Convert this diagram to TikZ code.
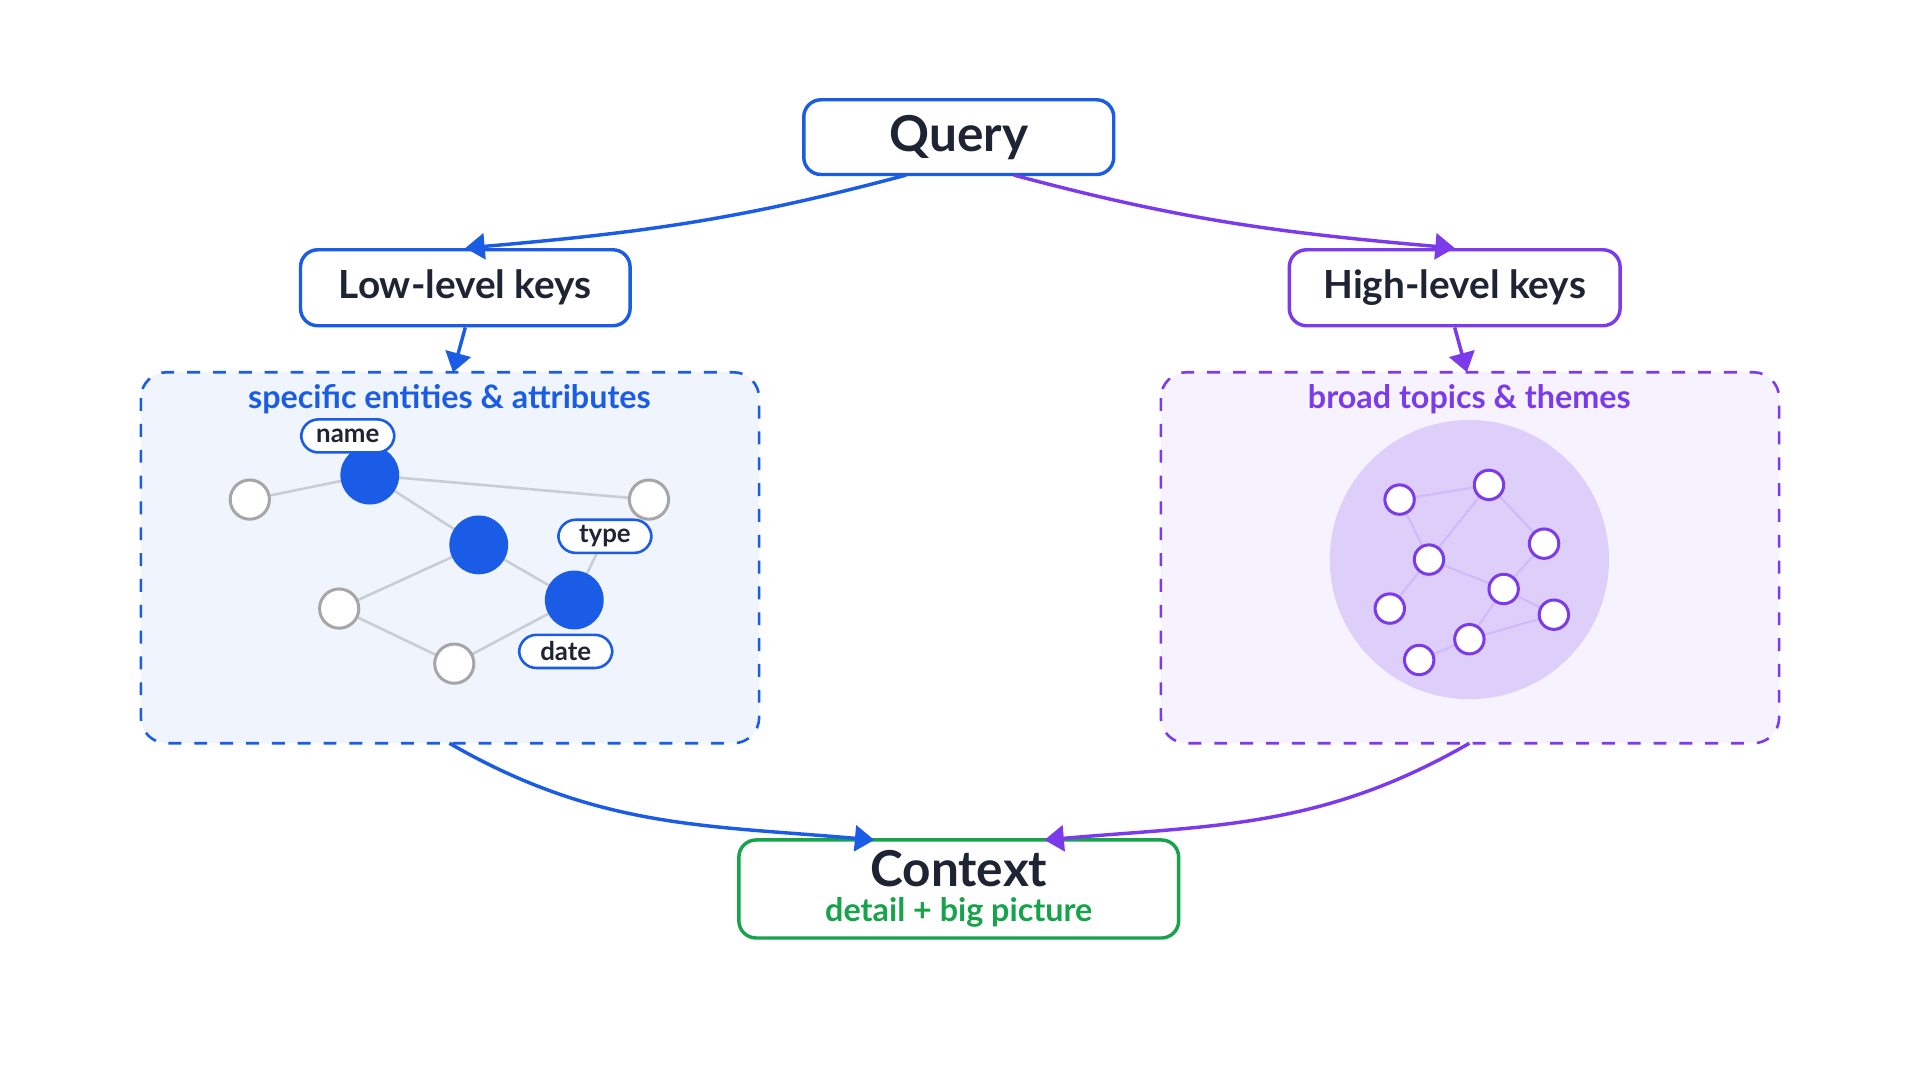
\documentclass[tikz,border=0pt]{standalone}
\usepackage{fontspec}
\setmainfont{Lato}
\usetikzlibrary{arrows.meta,positioning}
\definecolor{ink}{HTML}{1E2433}
\definecolor{lowblue}{HTML}{1A5CE6}
\definecolor{highpurple}{HTML}{7C3AED}
\definecolor{ctxgreen}{HTML}{16A34A}
\definecolor{edgegray}{HTML}{C8CDD8}
\tikzset{
  keybox/.style={draw, line width=0.8pt, rounded corners=4pt, fill=white, text=ink, font=\bfseries\fontsize{9}{11}\selectfont},
  zone/.style={dashed, line width=0.6pt, rounded corners=6pt},
  pill/.style={draw=lowblue, line width=0.6pt, rounded corners=4pt, fill=white, text=ink, font=\bfseries\fontsize{6}{7}\selectfont, minimum width=0.76cm, minimum height=0.27cm, inner sep=1pt},
  entity/.style={circle, fill=lowblue, minimum size=0.48cm, inner sep=0pt},
  plain/.style={circle, draw=gray!70, line width=0.7pt, fill=white, minimum size=0.32cm, inner sep=0pt},
  topic/.style={circle, draw=highpurple, line width=0.7pt, fill=white, minimum size=0.24cm, inner sep=0pt},
  link/.style={edgegray, line width=0.6pt},
  flow/.style={line width=0.8pt, -{Triangle[width=6pt,length=4.5pt]}},
}
\begin{document}
\begin{tikzpicture}[x=0.01cm, y=-0.01cm]
  \useasboundingbox (0,0) rectangle (1568,882);
  % zones
  \draw[zone, draw=lowblue, fill=lowblue!7] (115,304) rectangle (620,607);
  \draw[zone, draw=highpurple, fill=highpurple!6] (948,304) rectangle (1453,607);
  \node[text=lowblue, font=\bfseries\fontsize{7.5}{9}\selectfont] at (367,326) {specific entities \& attributes};
  \node[text=highpurple, font=\bfseries\fontsize{7.5}{9}\selectfont] at (1200,326) {broad topics \& themes};
  % boxes
  \node[keybox, draw=lowblue, minimum width=2.53cm, minimum height=0.61cm, font=\bfseries\fontsize{11.5}{13}\selectfont] (query) at (783,112) {Query};
  \node[keybox, draw=lowblue, minimum width=2.69cm, minimum height=0.62cm] (low) at (380,235) {Low-level keys};
  \node[keybox, draw=highpurple, minimum width=2.70cm, minimum height=0.62cm] (high) at (1188,235) {High-level keys};
  \node[keybox, draw=ctxgreen, minimum width=3.59cm, minimum height=0.80cm, inner sep=1pt, align=center] (context) at (783,726)
    {{\fontsize{11.5}{12}\selectfont Context}\\[-3pt]{\color{ctxgreen}\fontsize{7.5}{9}\selectfont detail + big picture}};
  \coordinate (qleft) at (740,143);
  \coordinate (qright) at (828,143);
  \coordinate (lowin) at (370,304);
  \coordinate (highin) at (1198,304);
  \coordinate (lowout) at (367,607);
  \coordinate (highout) at (1200,607);
  \coordinate (ctxleft) at (714,686);
  \coordinate (ctxright) at (853,686);
  % left graph
  \foreach \n/\x/\y in {p1/204/408, p2/530/408, p3/277/497, p4/371/542, e1/302/388, e2/391/445, e3/469/490, typeanchor/494/438}
    \coordinate (\n) at (\x,\y);
  \foreach \a/\b in {p1/e1, e1/p2, e1/e2, e2/p3, e2/e3, p3/p4, p4/e3, typeanchor/e3}
    \draw[link] (\a) -- (\b);
  \foreach \n in {p1,p2,p3,p4}
    \node[plain] at (\n) {};
  \foreach \n in {e1,e2,e3}
    \node[entity] at (\n) {};
  \node[pill] (name) at (284,356) {name};
  \node[pill] (type) at (typeanchor) {type};
  \node[pill] (date) at (462,532) {date};
  % right cluster
  \fill[highpurple!25] (1200,457) circle (114);
  \foreach \n/\x/\y in {t1/1143/408, t2/1216/396, t3/1261/444, t4/1167/457, t5/1228/481, t6/1135/497, t7/1269/502, t8/1200/522, t9/1159/539}
    \coordinate (\n) at (\x,\y);
  \foreach \a/\b in {t1/t2, t2/t3, t2/t4, t1/t4, t4/t5, t5/t3, t5/t7, t7/t8, t8/t9, t6/t4, t8/t5}
    \draw[white!65!highpurple, line width=0.5pt] (\a) -- (\b);
  \foreach \n in {t1,t2,t3,t4,t5,t6,t7,t8,t9}
    \node[topic] at (\n) {};
  % connectors
  \draw[flow, lowblue] (qleft) to[out=-165, in=5] (low.north);
  \draw[flow, highpurple] (qright) to[out=-15, in=175] (high.north);
  \draw[flow, lowblue] (low.south) -- (lowin);
  \draw[flow, highpurple] (high.south) -- (highin);
  \draw[flow, lowblue] (lowout) to[out=-30, in=175] (ctxleft);
  \draw[flow, highpurple] (highout) to[out=-150, in=5] (ctxright);
\end{tikzpicture}
\end{document}
